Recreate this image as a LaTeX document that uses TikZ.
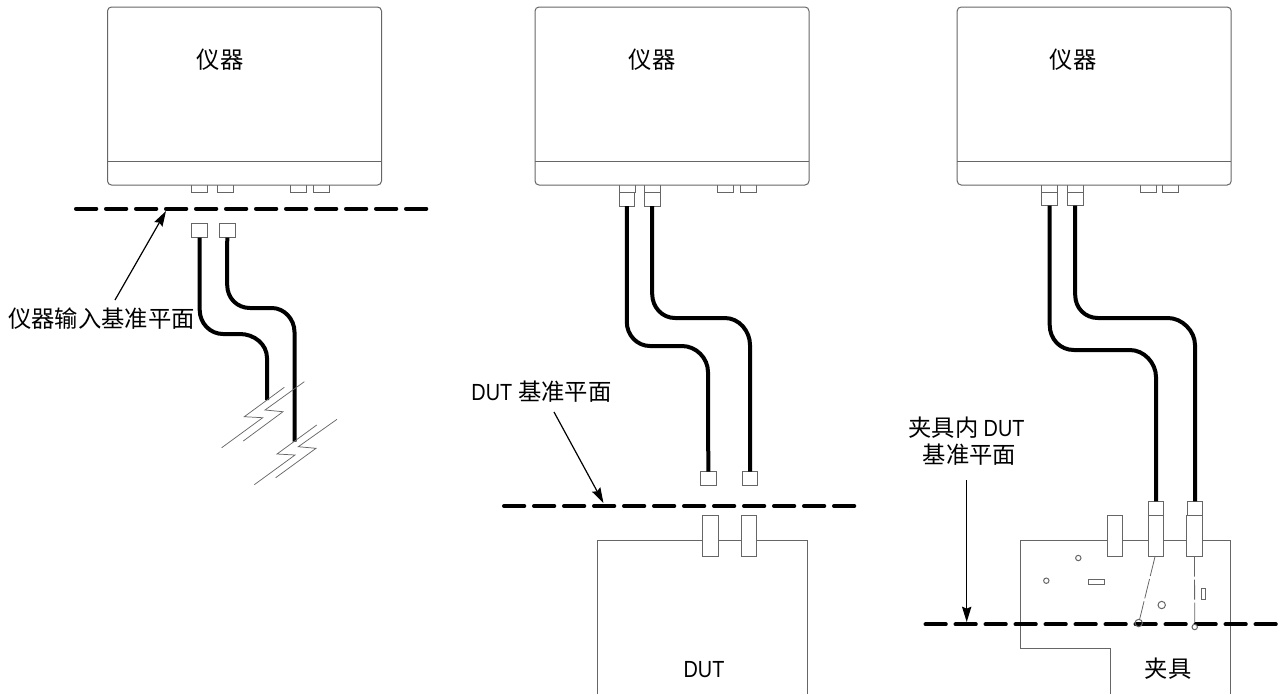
\documentclass[tikz,border=0pt]{standalone}
\usepackage{fontspec}
\setmainfont{Noto Sans CJK SC}
\newfontfamily\latf[FakeStretch=0.85]{Liberation Sans}
\usetikzlibrary{arrows.meta}
\def\u{0.75pt}
\definecolor{thinc}{HTML}{666666}
\tikzset{
  thinline/.style={draw=thinc,line width=0.75pt},
  partbox/.style={thinline,fill=white,rectangle,inner sep=0pt,outer sep=0pt},
  instbox/.style={partbox,rounded corners=3pt,minimum width=274*\u,minimum height=178*\u},
  cable/.style={draw=black,line width=3pt,line cap=butt},
  plane/.style={draw=black,line width=3pt,line cap=round,dash pattern=on 15.2pt off 7.3pt},
  callout/.style={draw=black,line width=0.9pt,-{Stealth[length=11.5pt,width=7pt,inset=1.5pt]}},
  brk/.style={draw=thinc,line width=0.55pt},
  hole/.style={thinline,fill=white,circle,inner sep=0pt,outer sep=0pt},
  lab/.style={inner sep=0pt,font=\fontsize{17.5pt}{21pt}\selectfont,align=center},
  leader/.style={draw=thinc,line width=0.6pt,dash pattern=on 15pt off 2.2pt}
}
\newcommand{\bx}[5]{\node[partbox,minimum width={(#4-#2)*\u},minimum height={(#5-#3)*\u}] (#1) at ({(#2+#4)/2},{(#3+#5)/2}) {};}
\begin{document}
\begin{tikzpicture}[x=0.75pt,y=-0.75pt]
\useasboundingbox (0,0) rectangle (1287,694);
% ---- panel 1
\bx{aS}{191.7}{180}{207.7}{192}\bx{bS}{217}{180}{233}{192}\bx{cS}{290}{180}{306}{192}\bx{dS}{313}{180}{329}{192}
\node[instbox] (inst1) at (244.5,96) {};
\coordinate (d1a) at (107.5,161); \coordinate (d1b) at (381.5,161);
\draw[thinline] (d1a) -- (d1b);
\node[lab] (t1) at (220,60) {仪器};
\coordinate (pl1a) at (76,208.7); \coordinate (pl1b) at (430,208.7);
\draw[plane] (pl1a) -- (pl1b);
\bx{f1a}{191.7}{223}{207.7}{237.5}\bx{f1b}{219.5}{223}{235}{237.5}
\coordinate (e1a) at (267,400); \coordinate (e1b) at (294.5,441.5);
\draw[cable] (f1a.south) -- (199.7,310) .. controls (199.7,323) and (210,334) .. (223,334) -- (240,334) .. controls (254,334) and (267,344) .. (267,358) -- (e1a);
\draw[cable] (f1b.south) -- (227.2,285) .. controls (227.2,298) and (237,308) .. (250,308) -- (272,308) .. controls (284,308) and (294.5,319) .. (294.5,332) -- (e1b);
\draw[brk] (221.7,447.7) -- (262.7,417.7) -- (244.3,416.7) -- (284.3,387.3);
\draw[brk] (243.3,441) -- (283,411.7) -- (265,410) -- (304.3,381.7);
\draw[brk] (254.3,484.7) -- (295,455) -- (277,454) -- (316.7,425);
\draw[brk] (275.7,477.7) -- (316,448.3) -- (298.3,446.7) -- (337,419.3);
\node[lab,anchor=center] (l1) at (101.5,319) {仪器输入基准平面};
\coordinate (a1s) at (115,300); \coordinate (a1e) at (166,211);
\draw[callout] (a1s) -- (a1e);
% ---- panel 2
\bx{aS2}{619.3}{180}{635}{192}\bx{bS2}{644.7}{180}{660.3}{192}\bx{cS2}{717.7}{180}{733.7}{192}\bx{dS2}{740.3}{180}{756}{192}
\node[instbox] (inst2) at (672,96) {};
\coordinate (d2a) at (535,161); \coordinate (d2b) at (809,161);
\draw[thinline] (d2a) -- (d2b);
\node[lab] (t2) at (652,60) {仪器};
\bx{m2a}{619}{192}{634.7}{206}\bx{m2b}{644.3}{192}{660}{206}
\bx{f2a}{700.3}{471.7}{716.3}{485.7}\bx{f2b}{742.3}{471.7}{757.7}{485.7}
\draw[cable] (m2a.south) -- (626.8,322) .. controls (626.8,335) and (637,346) .. (650,346) -- (682,346) .. controls (696,346) and (708,358) .. (708,372) -- (f2a.north);
\draw[cable] (m2b.south) -- (652.2,294) .. controls (652.2,307) and (662,318) .. (675,318) -- (725,318) .. controls (739,318) and (750,331) .. (750,345) -- (f2b.north);
\coordinate (pl2a) at (504,506); \coordinate (pl2b) at (858,506);
\draw[plane] (pl2a) -- (pl2b);
\coordinate (du1) at (597.3,694); \coordinate (du2) at (597.3,540.7); \coordinate (du3) at (807.3,540.7); \coordinate (du4) at (807.3,694);
\draw[thinline] (du1) -- (du2) -- (du3) -- (du4);
\bx{g2a}{702.3}{515}{718.3}{556.7}\bx{g2b}{741}{515}{756.7}{556.7}
\node[lab] (dutl) at (704,670) {\latf DUT};
\node[lab] (l2) at (541.5,392) {{\latf DUT}\hspace{4.5pt}基准平面};
\coordinate (a2s) at (554,412); \coordinate (a2e) at (603.5,503);
\draw[callout] (a2s) -- (a2e);
% ---- panel 3
\bx{aS3}{1041.7}{180}{1057.7}{192}\bx{bS3}{1067.3}{180}{1083}{192}\bx{cS3}{1140.3}{180}{1156}{192}\bx{dS3}{1162.3}{180}{1178.7}{192}
\node[instbox] (inst3) at (1094.2,96) {};
\coordinate (d3a) at (957.3,161); \coordinate (d3b) at (1231,161);
\draw[thinline] (d3a) -- (d3b);
\node[lab] (t3) at (1073,60) {仪器};
\bx{m3a}{1041.7}{192}{1057.7}{205.5}\bx{m3b}{1067.3}{192}{1083}{205.5}
\coordinate (fx1) at (1110,694); \coordinate (fx2) at (1110,648); \coordinate (fx3) at (1020,648); \coordinate (fx4) at (1020,540.7); \coordinate (fx5) at (1230,540.7); \coordinate (fx6) at (1230,694);
\draw[thinline] (fx1) -- (fx2) -- (fx3) -- (fx4) -- (fx5) -- (fx6);
\bx{g3x}{1107.3}{515.3}{1122.7}{556.7}
\bx{g3a}{1148.3}{515.3}{1163.7}{556.7}\bx{g3b}{1186.7}{515.3}{1202}{556.7}
\bx{h3a}{1148.3}{501.3}{1163.7}{515.3}\bx{h3b}{1187.3}{501.3}{1202.7}{515.3}
\draw[cable] (m3a.south) -- (1049.7,325) .. controls (1049.7,339) and (1060,350) .. (1074,350) -- (1130,350) .. controls (1144,350) and (1156,363) .. (1156,377) -- (h3a.north);
\draw[cable] (m3b.south) -- (1075.2,295) .. controls (1075.2,308) and (1085,318) .. (1098,318) -- (1168,318) .. controls (1182,318) and (1195,331) .. (1195,345) -- (h3b.north);
\coordinate (pl3a) at (925.5,624.3); \coordinate (pl3b) at (1281,624.3);
\draw[plane] (pl3a) -- (pl3b);
\node[hole,minimum size=5.4*\u] (h1) at (1078.3,558) {};
\node[hole,minimum size=5.4*\u] (h2) at (1046.3,580.7) {};
\node[hole,minimum size=7.4*\u] (h3) at (1161.7,605) {};
\node[hole,fill=none,minimum size=7.4*\u] (h4) at (1138.7,623) {};
\node[hole,minimum size=5.4*\u] (h5) at (1194.7,627) {};
\bx{r1}{1088.3}{579.3}{1104.3}{584}\bx{r2}{1201.3}{588.7}{1205.3}{599.3}
\coordinate (la) at (1155,556.7);
\coordinate (lb) at (1194.5,556.7);
\draw[leader] (la) -- (h4);
\draw[leader] (lb) -- (h5);
\node[lab] (l3) at (966.5,441) {夹具内 {\latf DUT}\\[-0.5pt]\hspace{4.5pt}基准平面};
\coordinate (a3s) at (966.7,480); \coordinate (a3e) at (966.7,622);
\draw[callout] (a3s) -- (a3e);
\node[lab] (fxl) at (1168,669) {夹具};
\end{tikzpicture}
\end{document}
